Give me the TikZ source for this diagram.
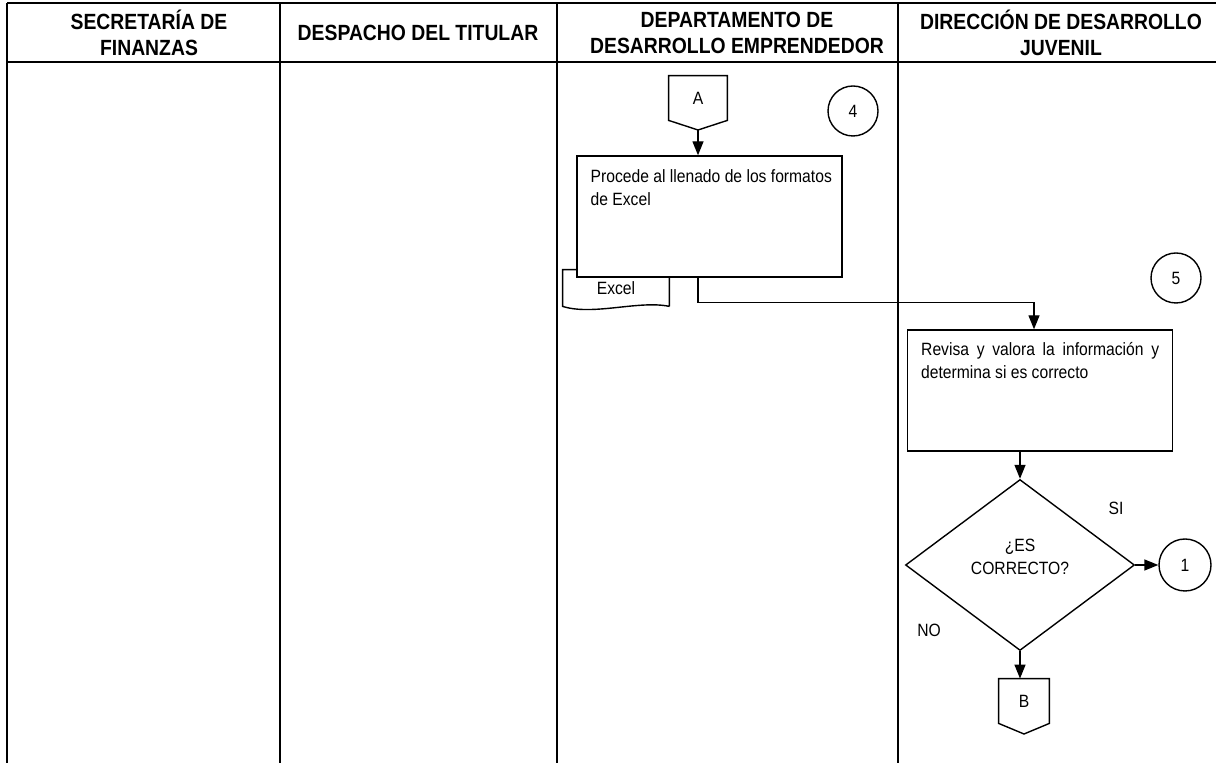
\documentclass[tikz,border=0pt]{standalone}
\usepackage{fontspec}
\setmainfont[FakeStretch=0.88]{Liberation Sans}
\usetikzlibrary{arrows.meta, shapes.geometric, calc}
\hyphenpenalty=10000
\exhyphenpenalty=10000

\tikzset{
    lane/.style={line width=0.55pt},
    headrule/.style={line width=1.4pt},
    lanehead/.style={font=\bfseries\fontsize{11}{13}\selectfont, align=center, inner sep=0pt},
    outline/.style={draw, line width=0.7pt},
    proc/.style={outline, fill=white, minimum width=132.5pt, minimum height=60.5pt},
    proctext/.style={font=\fontsize{8.9}{11.5}\selectfont, inner sep=0pt, align=left},
    offpage/.style={proctext, minimum width=29pt, minimum height=22pt},
    num/.style={outline, circle, minimum size=25pt, inner sep=0pt, font=\fontsize{8.9}{11.5}\selectfont},
    decision/.style={outline, diamond, minimum width=114.5pt, minimum height=85.5pt, inner sep=0pt},
    doc/.style={proctext, minimum width=53pt, minimum height=18pt},
    flow/.style={line width=0.7pt, ->}
}

\begin{document}
\begin{tikzpicture}[x=0.5pt, y=-0.5pt, >={Triangle[length=7pt,width=5.5pt]}]
    \useasboundingbox (0,0) rectangle (1216,763);

    \draw[headrule] (7,3) -- (1216,3);
    \draw[headrule] (7,62) -- (1216,62);
    \foreach \x in {7,280,557,898} {
        \draw[lane] (\x,3) -- (\x,763);
    }
    \foreach \cx/\txt [count=\i] in {149/{SECRETARÍA DE\\FINANZAS}, 418/{DESPACHO DEL TITULAR}, 737/{DEPARTAMENTO DE\\DESARROLLO EMPRENDEDOR}, 1061/{DIRECCIÓN DE DESARROLLO\\JUVENIL}} {
        \node[lanehead] (head\i) at (\cx,33) {\txt};
    }

    % paso 4
    \node[offpage] (A) at (698,98) {A};
    \coordinate (A-tip) at (698,130);
    \draw[outline] (A.north west) -- (A.north east) -- (A.south east) -- (A-tip) -- (A.south west) -- cycle;
    \node[num] (n4) at (853,111) {4};

    \node[doc] (xls) at (616,288) {Excel};
    \draw[outline] (xls.south east) -- (xls.north east) -- (xls.north west) -- (xls.south west)
        .. controls (593,316) and (639,300) .. (xls.south east);
    \node[proc] (formats) at (709.5,216.5) {};
    \node[proctext, anchor=north west] (formatstxt) at ([shift={(14,14)}]formats.north west) {Procede al llenado de los formatos\\de Excel};
    \draw[flow] (A-tip) -- (A-tip |- formats.north);

    % paso 5
    \node[num] (n5) at (1176,278) {5};
    \node[proc] (review) at (1040,390.5) {};
    \node[proctext, anchor=north west, text width=119pt, align=justify] (reviewtxt) at ([shift={(14,13)}]review.north west) {Revisa y valora la información y determina si es correcto};
    \draw[flow] (formats.south -| A-tip) -- ++(0,25) -| ([xshift=-3pt]review.north);

    \node[decision] (correct) at (1020,565) {};
    \node[proctext, align=center] (correcttxt) at (1020,557) {¿ES\\CORRECTO?};
    \draw[flow] (review.south -| correct.north) -- (correct.north);

    \node[num, minimum size=26pt] (n1) at (1185,565) {1};
    \draw[flow] (correct.east) -- (n1.west);
    \node[proctext] (si) at (1116,508) {SI};
    \node[proctext] (no) at (929,630) {NO};

    \node[offpage, minimum width=25pt] (B) at (1024,701) {B};
    \coordinate (B-tip) at (1024,734);
    \draw[outline] (B.north west) -- (B.north east) -- (B.south east) -- (B-tip) -- (B.south west) -- cycle;
    \draw[flow] (correct.south) -- (correct.south |- B.north);
\end{tikzpicture}
\end{document}
